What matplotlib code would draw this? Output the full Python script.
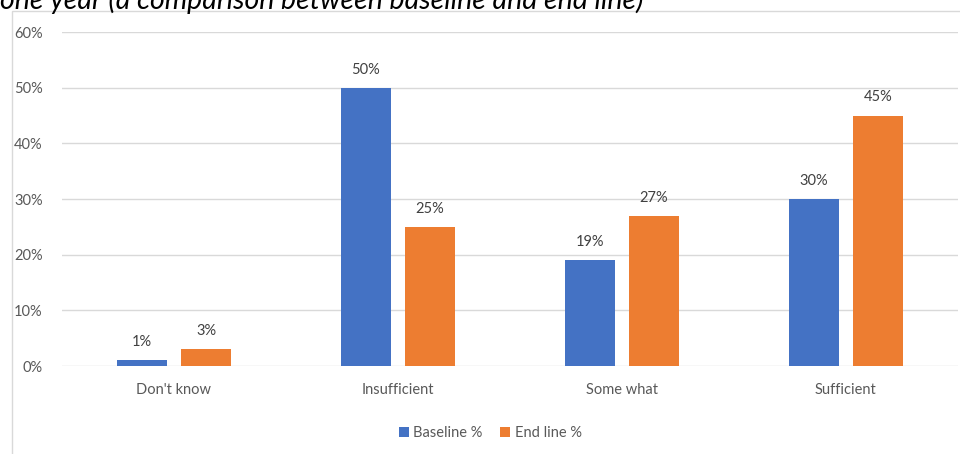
import matplotlib.pyplot as plt
import matplotlib.patches as mpatches
import numpy as np

categories = ["Don't know", "Insufficient", "Some what", "Sufficient"]
baseline = [1, 50, 19, 30]
endline = [3, 25, 27, 45]

blue = "#4472C4"
orange = "#ED7D31"
grey = "#595959"

plt.rcParams['font.family'] = ['Lato', 'DejaVu Sans']

fig = plt.figure(figsize=(9.6, 4.54), dpi=100)
ax = fig.add_axes([0.0646, 0.1938, 0.933, 0.7357])

x = np.arange(len(categories))
w = 0.223
off = 0.143
b1 = ax.bar(x - off, np.array(baseline) / 100, w, color=blue, label="Baseline %", zorder=3)
b2 = ax.bar(x + off, np.array(endline) / 100, w, color=orange, label="End line %", zorder=3)

for bars, vals in ((b1, baseline), (b2, endline)):
    for r, v in zip(bars, vals):
        ax.annotate(f"{v}%", (r.get_x() + r.get_width() / 2, r.get_height()),
                    xytext=(0, 8), textcoords="offset points", ha="center", va="bottom",
                    fontsize=10.5, color="#404040")

ax.set_xlim(-0.5, 3.5)
ax.set_ylim(0, 0.6)
ax.set_yticks(np.arange(0, 0.61, 0.1))
ax.set_yticklabels([f"{int(round(t * 100))}%" for t in np.arange(0, 0.61, 0.1)])
ax.set_xticks(x)
ax.set_xticklabels(categories)
ax.tick_params(axis="both", length=0, colors=grey, labelsize=10.5)
ax.tick_params(axis="x", pad=12)
ax.tick_params(axis="y", pad=14)
ax.grid(axis="y", color="#d9d9d9", linewidth=1, zorder=0)
for s in ax.spines.values():
    s.set_visible(False)

ax.legend(loc="center", bbox_to_anchor=(0.478, -0.2), ncol=2, frameon=False,
          fontsize=10.5, handlelength=0.7, handleheight=0.7, handletextpad=0.3,
          columnspacing=1.2, labelcolor=grey)

fig.patches.append(mpatches.Rectangle((12 / 960, -0.1), 1.2, 1 - 11 / 454 + 0.1,
                                      transform=fig.transFigure, fill=False,
                                      edgecolor="#d9d9d9", linewidth=1))

fig.text(0.0, 1 - 9 / 454, "one year (a comparison between baseline and end line)",
         fontsize=20.5, style="italic", color="black", ha="left", va="baseline")

fig.savefig("out.png", dpi=100)
